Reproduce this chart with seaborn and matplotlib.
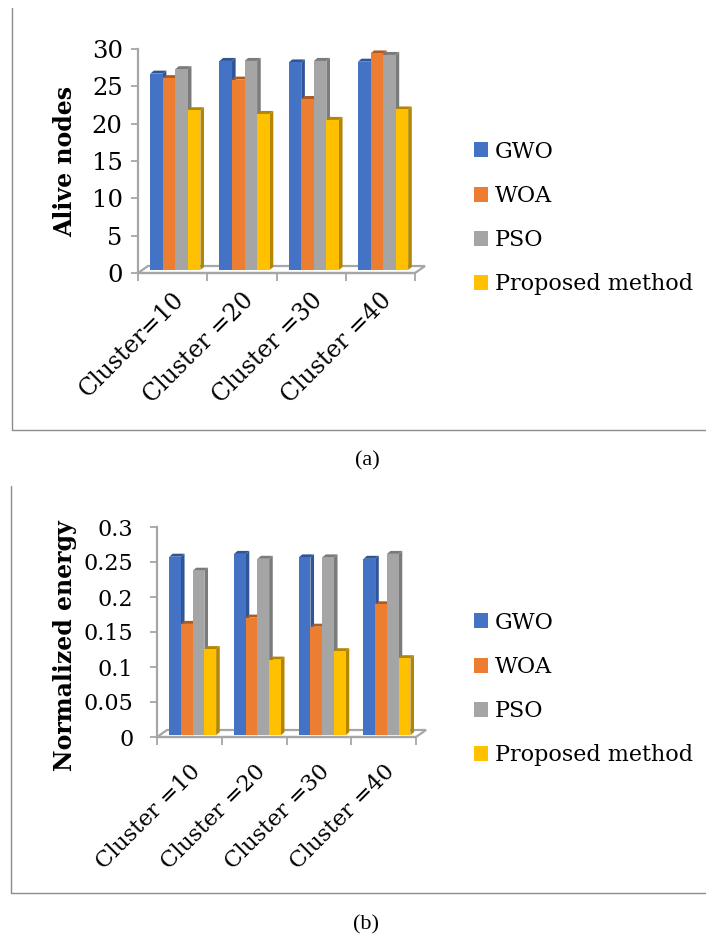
import matplotlib
matplotlib.use('Agg')
import matplotlib.pyplot as plt
from matplotlib.lines import Line2D
from matplotlib.patches import Patch, Polygon
import pandas as pd
import seaborn as sns

W, H = 706, 939

methods = ['GWO', 'WOA', 'PSO', 'Proposed method']
colors = ['#4472C4', '#ED7D31', '#A5A5A5', '#FFC000']
dark_colors = ['#2F5597', '#AE5A21', '#7B7B7B', '#B38600']

labels_a = ['Cluster=10', 'Cluster =20', 'Cluster =30', 'Cluster =40']
gwo_a = [26.3, 28.0, 27.8, 27.9]
woa_a = [25.7, 25.5, 22.9, 29.0]
pso_a = [26.9, 28.0, 28.0, 28.8]
prop_a = [21.4, 20.9, 20.1, 21.5]
ticks_a = [0, 5, 10, 15, 20, 25, 30]

labels_b = ['Cluster =10', 'Cluster =20', 'Cluster =30', 'Cluster =40']
gwo_b = [0.255, 0.259, 0.254, 0.252]
woa_b = [0.159, 0.168, 0.155, 0.187]
pso_b = [0.235, 0.252, 0.254, 0.259]
prop_b = [0.123, 0.108, 0.120, 0.110]
ticks_b = [0, 0.05, 0.1, 0.15, 0.2, 0.25, 0.3]
tick_labels_b = ['0', '0.05', '0.1', '0.15', '0.2', '0.25', '0.3']

sns.set_theme(style='white')
plt.rcParams['font.family'] = ['DejaVu Serif']
AXIS_GRAY = '#A6A6A6'
FRAME_GRAY = '#8C8C8C'

fig = plt.figure(figsize=(W / 100, H / 100), dpi=100, facecolor='white')


def draw_panel(series, cats, yticks, ytick_labels, ylabel, box, label_y, shift, lift, legend_y,
               ysize, ypad, xsize, xpad):
    left, right, top, bottom = box
    ax = fig.add_axes([left / W, 1 - bottom / H, (right - left) / W, (bottom - top) / H])
    ax.patch.set_alpha(0)

    df = pd.DataFrame({'cluster': cats})
    for name, vals in zip(methods, series):
        df[name] = vals
    long = df.melt(id_vars='cluster', var_name='method', value_name='value')
    sns.barplot(data=long, x='cluster', y='value', hue='method', hue_order=methods,
                palette=colors, width=0.725, gap=0, saturation=1, linewidth=0,
                legend=False, ax=ax, zorder=3)
    ymax = yticks[-1]
    ax.set_xlim(-0.5, 3.5)
    ax.set_ylim(0, ymax)

    # px -> data
    px_x = 4 / (right - left)
    px_y = ymax / (bottom - top)

    # floor of the fake 3d box
    floor = Polygon([(-0.5, 0), (3.5, 0), (3.5 + 10 * px_x, 7 * px_y), (-0.5 + 10 * px_x, 7 * px_y)],
                    closed=True, fc='white', ec=AXIS_GRAY, lw=1.6, zorder=1, clip_on=False)
    ax.add_patch(floor)

    # move bars onto the floor and add side and top faces
    dx, dy = 3.6 * px_x, 3 * px_y
    for i, cont in enumerate(ax.containers):
        for bar in cont:
            bar.set_x(bar.get_x() + shift * px_x)
            bar.set_y(lift * px_y)
            bar.set_zorder(3 + 2 * i + 1)
            x0, y0 = bar.get_x(), bar.get_y()
            x1, y1 = x0 + bar.get_width(), y0 + bar.get_height()
            ax.add_patch(Polygon([(x1, y0), (x1 + dx, y0 + dy), (x1 + dx, y1 + dy), (x1, y1)],
                                 closed=True, fc=dark_colors[i], lw=0, zorder=3 + 2 * i, clip_on=False))
            ax.add_patch(Polygon([(x0, y1), (x1, y1), (x1 + dx, y1 + dy), (x0 + dx, y1 + dy)],
                                 closed=True, fc=dark_colors[i], lw=0, zorder=3 + 2 * i, clip_on=False))

    sns.despine(ax=ax, top=True, right=True)
    for side in ['left', 'bottom']:
        ax.spines[side].set_color(AXIS_GRAY)
        ax.spines[side].set_linewidth(1.6)
        ax.spines[side].set_zorder(2)

    ax.set_yticks(yticks, ytick_labels)
    ax.tick_params(axis='y', length=5, width=1.3, color=AXIS_GRAY, labelsize=ysize, pad=ypad, left=True, labelcolor='black')
    ax.set_xticks([-0.5, 0.5, 1.5, 2.5, 3.5], [])
    ax.tick_params(axis='x', which='major', length=6, width=1.3, color=AXIS_GRAY, bottom=True)
    ax.set_xticks([0, 1, 2, 3], cats, minor=True)
    ax.tick_params(axis='x', which='minor', length=0, pad=xpad, labelsize=xsize, labelcolor='black')
    for t in ax.get_xticklabels(minor=True):
        t.set_rotation(45)
        t.set_ha('right')
        t.set_rotation_mode('anchor')

    ax.set_xlabel('')
    ax.set_ylabel(ylabel, fontsize=17, fontweight='bold', color='black')
    ax.yaxis.set_label_coords((77 - left) / (right - left), label_y)

    handles = [Patch(fc=c, ec='none') for c in colors]
    fig.legend(handles, methods, loc='center left', bbox_to_anchor=(474 / W, 1 - legend_y / H),
               frameon=False, fontsize=16, handlelength=0.65, handleheight=0.65,
               handletextpad=0.3, labelspacing=1.0, labelcolor='black', borderpad=0, borderaxespad=0)
    return ax


draw_panel([gwo_a, woa_a, pso_a, prop_a], labels_a, ticks_a, [str(t) for t in ticks_a], 'Alive nodes',
           (138, 415, 49, 273), 0.5, 2.7, 3, 218, 17.5, 6, 17, 11)
draw_panel([gwo_b, woa_b, pso_b, prop_b], labels_b, ticks_b, tick_labels_b, 'Normalized energy',
           (157, 416, 527, 737), 0.436, 3.3, 1.8, 689, 16, 12, 16.2, 17)

# outer frames of the two panels
for x, y0, y1 in [(12, 8, 430), (11, 486, 893)]:
    fig.add_artist(Line2D([x / W, x / W], [1 - y0 / H, 1 - y1 / H], color=FRAME_GRAY, lw=1))
    fig.add_artist(Line2D([x / W, 1], [1 - y1 / H, 1 - y1 / H], color=FRAME_GRAY, lw=1))

fig.text(367 / W, 1 - 461 / H, '(a)', ha='center', va='center', fontsize=16, family='Liberation Serif', color='black')
fig.text(366 / W, 1 - 925 / H, '(b)', ha='center', va='center', fontsize=16, family='Liberation Serif', color='black')

fig.savefig('out.png', dpi=100)
